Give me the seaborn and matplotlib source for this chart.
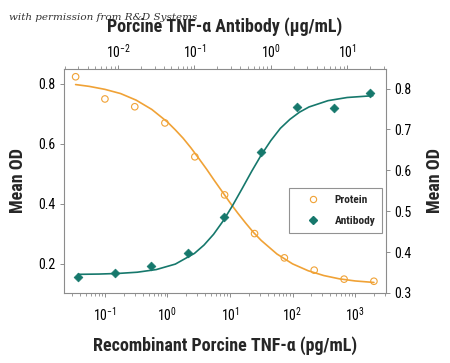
import matplotlib
matplotlib.use("Agg")
import matplotlib.pyplot as plt
from matplotlib import font_manager
from matplotlib.lines import Line2D
import seaborn as sns
import pandas as pd

# ---- data ----
protein_conc = [2000, 667, 222, 74, 24.7, 8.2, 2.74, 0.91, 0.30, 0.10, 0.034]   # pg/mL
protein_od = [0.142, 0.149, 0.179, 0.220, 0.301, 0.430, 0.557, 0.670, 0.724, 0.750, 0.824]

antibody_conc = [20, 6.67, 2.22, 0.74, 0.247, 0.082, 0.027, 0.0091, 0.003]      # ug/mL
antibody_od = [0.788, 0.753, 0.755, 0.644, 0.485, 0.398, 0.366, 0.350, 0.340]

# fitted curves
protein_curve_x = [0.034, 0.056, 0.1, 0.178, 0.316, 0.562, 1.0, 1.334, 1.78, 2.371, 3.16,
                   4.217, 5.62, 7.5, 10.0, 13.34, 17.8, 23.71, 31.6, 56.2, 100, 178, 316,
                   562, 1000, 2000]
protein_curve_y = [0.798, 0.792, 0.782, 0.768, 0.746, 0.715, 0.673, 0.647, 0.619, 0.587, 0.552,
                   0.516, 0.478, 0.441, 0.404, 0.369, 0.336, 0.305, 0.278, 0.233, 0.200, 0.177,
                   0.161, 0.150, 0.143, 0.138]

antibody_curve_x = [0.003, 0.0056, 0.01, 0.0178, 0.0316, 0.0562, 0.1, 0.1334, 0.178, 0.2371,
                    0.316, 0.4217, 0.562, 0.75, 1.0, 1.334, 1.78, 2.371, 3.16, 5.62, 10.0, 21.7]
antibody_curve_y = [0.3455, 0.3462, 0.3477, 0.3507, 0.3572, 0.3706, 0.3968, 0.4172, 0.4435,
                    0.476, 0.514, 0.5555, 0.5977, 0.6376, 0.6727, 0.7028, 0.7248, 0.7422,
                    0.755, 0.7705, 0.7782, 0.7826]

left_ticks = [0.2, 0.4, 0.6, 0.8]
right_ticks = [0.3, 0.4, 0.5, 0.6, 0.7, 0.8]

ORANGE = "#F0A236"
TEAL = "#16786C"
SPINE = "#8C8C8C"

sns.set_theme(style="white")
avail = {f.name for f in font_manager.fontManager.ttflist}
fam = "Liberation Sans"
for cand in ["Liberation Sans Narrow", "Noto Sans Condensed", "Roboto Condensed",
             "Open Sans Condensed", "Noto Sans Display Condensed"]:
    if cand in avail:
        fam = cand
        break
plt.rcParams["font.family"] = [fam, "DejaVu Sans"]
plt.rcParams["mathtext.fontset"] = "custom"
plt.rcParams["mathtext.rm"] = fam
plt.rcParams["mathtext.it"] = fam + ":italic"
plt.rcParams["mathtext.bf"] = fam + ":bold"

condensed = fam != "Liberation Sans"
LAB = 13 if condensed else 11.5
TICK = 10 if condensed else 9.5

fig = plt.figure(figsize=(4.5, 3.63), dpi=100)
pos = [0.142, 0.193, 0.716, 0.617]
ax = fig.add_axes(pos)
ax2 = fig.add_axes(pos, frameon=False)

prot_df = pd.DataFrame({"x": protein_conc, "y": protein_od})
prot_curve = pd.DataFrame({"x": protein_curve_x, "y": protein_curve_y})
ab_df = pd.DataFrame({"x": antibody_conc, "y": antibody_od})
ab_curve = pd.DataFrame({"x": antibody_curve_x, "y": antibody_curve_y})

sns.lineplot(data=prot_curve, x="x", y="y", ax=ax, color=ORANGE, lw=1.2, sort=True)
sns.scatterplot(data=prot_df, x="x", y="y", ax=ax, marker="o", s=22,
                facecolors="none", edgecolor=ORANGE, linewidth=0.8)
sns.lineplot(data=ab_curve, x="x", y="y", ax=ax2, color=TEAL, lw=1.2, sort=True)
sns.scatterplot(data=ab_df, x="x", y="y", ax=ax2, marker="D", s=20,
                color=TEAL, edgecolor=TEAL, linewidth=0.5)

ax.set_xscale("log")
ax.set_xlim(10 ** -1.656, 10 ** 3.496)
ax.set_ylim(0.103, 0.85)
ax.set_yticks(left_ticks)
ax.set_yticklabels([f"{v:.1f}" for v in left_ticks])

ax2.set_xscale("log")
ax2.set_xlim(10 ** -2.71, 10 ** 1.51)
ax2.set_ylim(0.305, 0.848)
ax2.set_yticks(right_ticks)
ax2.set_yticklabels([f"{v:.1f}" for v in right_ticks])
ax2.xaxis.tick_top()
ax2.xaxis.set_label_position("top")
ax2.yaxis.tick_right()
ax2.yaxis.set_label_position("right")

for s in ax.spines.values():
    s.set_color(SPINE)
    s.set_linewidth(0.8)

for a in (ax, ax2):
    a.tick_params(which="major", length=3, width=0.7, color=SPINE, labelsize=TICK,
                  labelcolor="black", pad=3)
    a.tick_params(which="minor", length=2, width=0.6, color=SPINE)
ax.tick_params(axis="both", which="both", direction="out", bottom=True, left=True)
ax2.tick_params(axis="both", which="both", direction="out", top=True, right=True,
                bottom=False, left=False)
ax.tick_params(axis="x", pad=6)
ax2.tick_params(axis="x", pad=3)

ax.set_xlabel("Recombinant Porcine TNF-α (pg/mL)", fontsize=LAB, fontweight="bold", labelpad=9)
ax.set_ylabel("Mean OD", fontsize=LAB, fontweight="bold", labelpad=8)
ax2.set_xlabel("Porcine TNF-α Antibody (μg/mL)", fontsize=LAB, fontweight="bold", labelpad=8)
ax2.set_ylabel("Mean OD", fontsize=LAB, fontweight="bold", labelpad=10)

handles = [
    Line2D([], [], marker="o", ls="none", markersize=4.5, markerfacecolor="none",
           markeredgecolor=ORANGE, markeredgewidth=0.8),
    Line2D([], [], marker="D", ls="none", markersize=4, color=TEAL),
]
leg = ax2.legend(handles, ["Protein", "Antibody"], loc="upper left",
                 bbox_to_anchor=(0.699, 0.469), frameon=True, fancybox=False,
                 edgecolor="#777777", fontsize=8.2, handletextpad=0.4,
                 borderpad=0.6, labelspacing=1.0, handlelength=3.0, borderaxespad=0)
for t in leg.get_texts():
    t.set_fontweight("bold")
leg.get_frame().set_linewidth(0.8)

fig.text(0.02, 0.953, "with permission from R&D Systems", fontsize=7.5,
         family="DejaVu Serif", style="italic", color="#333333", va="center")

fig.savefig("out.png", dpi=100)
